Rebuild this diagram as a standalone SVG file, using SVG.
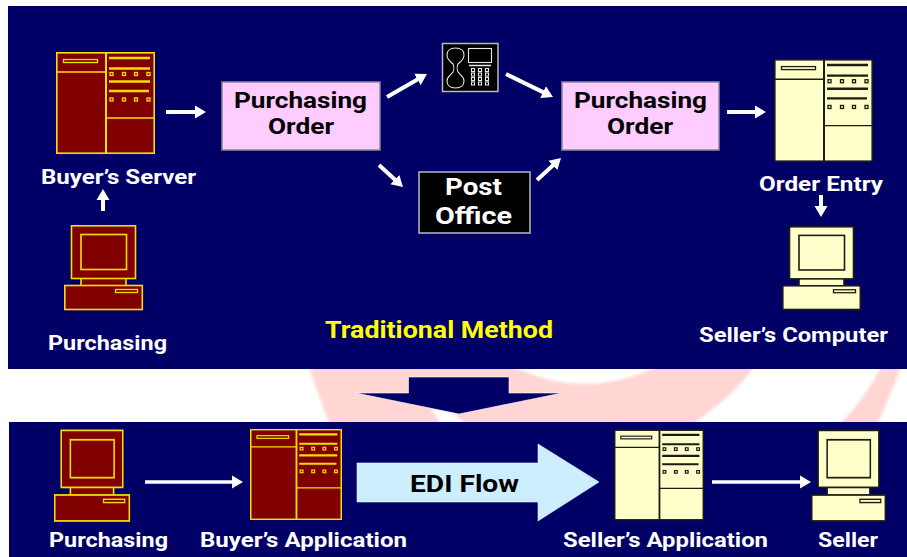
<svg xmlns="http://www.w3.org/2000/svg" width="907" height="557" viewBox="0 0 907 557">
<style>
.panel{fill:#000066}
.pink{fill:#ffd6d3}
.red{fill:#800000;stroke:#f4e000}
.cream{fill:#ffffcc;stroke:#1c1c10}
.order{fill:#ffccff;stroke:#8a8a9a;stroke-width:1.5}
.blk{fill:#000000;stroke:#b8b8c0;stroke-width:1.5}
.wire{fill:none;stroke:#e8e8e8;stroke-width:1.1}
.arrow{fill:none;stroke:#ffffff;stroke-width:4;marker-end:url(#head)}
.arrowThin{fill:none;stroke:#ffffff;stroke-width:3.5;marker-end:url(#head)}
text{font-family:Roboto,"Noto Sans","Liberation Sans",sans-serif;font-weight:700;fill:#ffffff}
.lab{font-size:20px}
.big{font-size:22px;fill:#000000}
.post{font-size:24.5px}
.yel{font-size:23px;fill:#ffff00}
.edi{font-size:23px;fill:#000000}
</style>
<defs>
<filter id="soft" x="-5%" y="-20%" width="110%" height="140%"><feGaussianBlur stdDeviation="1.6"/></filter>
<marker id="head" markerUnits="userSpaceOnUse" viewBox="0 -7 12 14" markerWidth="12" markerHeight="14" refX="1" refY="0" orient="auto">
<path d="M0,-6.5 L11,0 L0,6.5 Z" fill="#ffffff"/>
</marker>
<symbol id="server" viewBox="0 0 99 102" preserveAspectRatio="none" overflow="visible">
<rect x="0.8" y="0.8" width="97.4" height="100.4" stroke-width="1.6"/>
<path d="M50,0.5V101.5" stroke-width="2" fill="none"/>
<path d="M0.5,20H50M50,66H98.5" stroke-width="1.4" fill="none"/>
<rect x="7.5" y="7.5" width="34" height="3" stroke-width="1.3"/>
<path d="M53,6H94M53,16.5H94M53,29.5H94M53,39H93" stroke-width="2.4" fill="none"/>
<g stroke-width="1.3">
<rect x="54" y="20.5" width="3" height="3"/><rect x="66.5" y="20.5" width="3" height="3"/><rect x="78.5" y="20.5" width="3" height="3"/><rect x="91" y="20.5" width="3" height="3"/>
<rect x="54" y="46" width="3" height="3"/><rect x="66.5" y="46" width="3" height="3"/><rect x="78.5" y="46" width="3" height="3"/><rect x="91" y="46" width="3" height="3"/>
</g>
</symbol>
<symbol id="pc" viewBox="0 0 79 85" preserveAspectRatio="none" overflow="visible">
<rect x="17" y="52" width="45" height="9" stroke-width="1.6"/>
<rect x="7.5" y="0.8" width="64" height="52.7" stroke-width="1.6"/>
<rect x="17" y="9.5" width="45.5" height="35" stroke-width="1.6"/>
<rect x="0.8" y="60.5" width="77.5" height="24" stroke-width="1.6"/>
<rect x="51.5" y="64.5" width="22" height="3" stroke-width="1.3"/>
</symbol>
</defs>

<rect width="907" height="557" fill="#ffffff"/>
<g id="watermark" filter="url(#soft)">
<path class="pink" d="M308,365L330,426H690Q735,395 755,365H660Q585,403 510,365Z"/>
<path fill="#ffffff" d="M430,408L443,426H467L448,408Z"/>
<path class="pink" d="M882,365H902Q890,395 877,426H838Q865,400 882,365Z"/>
</g>
<rect class="panel" x="8" y="6" width="899" height="363"/>
<rect class="panel" x="9" y="422" width="898" height="135"/>

<g id="down-arrow">
<path d="M408.5,377H509V393H562L459,414L356,393H408.5Z" fill="#000066" stroke="#ffffff" stroke-width="0.6"/>
</g>

<g id="connectors">
<line class="arrow" x1="166" y1="112" x2="196" y2="112"/>
<line class="arrow" x1="103" y1="211" x2="103" y2="199"/>
<line class="arrow" x1="387" y1="97" x2="418.3" y2="79"/>
<line class="arrow" x1="506" y1="74" x2="544" y2="92.6"/>
<line class="arrow" x1="379" y1="165" x2="395.6" y2="180.2"/>
<line class="arrow" x1="537" y1="180" x2="553.6" y2="164.8"/>
<line class="arrow" x1="727" y1="112" x2="756" y2="112"/>
<line class="arrow" x1="821" y1="195" x2="821" y2="207"/>
<line class="arrowThin" x1="145" y1="482" x2="233" y2="482"/>
<line class="arrowThin" x1="712" y1="482" x2="801" y2="482"/>
</g>

<g id="buyers-server">
<use href="#server" class="red" x="56" y="52" width="99" height="102"/>
<text class="lab" x="41" y="184" textLength="155" lengthAdjust="spacingAndGlyphs">Buyer’s Server</text>
</g>
<g id="purchasing-top">
<use href="#pc" class="red" x="64" y="225" width="79" height="85"/>
<text class="lab" x="48" y="350" textLength="119" lengthAdjust="spacingAndGlyphs">Purchasing</text>
</g>
<g id="order-left">
<rect class="order" x="222" y="82" width="158" height="68"/>
<text class="big" x="234" y="108" textLength="133" lengthAdjust="spacingAndGlyphs">Purchasing</text>
<text class="big" x="268" y="134" textLength="66" lengthAdjust="spacingAndGlyphs">Order</text>
</g>
<g id="phone">
<rect class="blk" x="442.5" y="43.5" width="55.5" height="48"/>
<path class="wire" d="M455.5,48C450,48 447,51 447,55C447,60 451,62 453,64C454,66 454,70 453,72C451,75 447,76 447,81C447,85 450,88 455.5,88C461,88 464,85 464,81C464,76 460,75 458,72C457,70 457,66 458,64C460,62 464,60 464,55C464,51 461,48 455.5,48Z"/>
<rect class="wire" x="468.5" y="48.5" width="23" height="14"/>
<path d="M469,65.5H491" stroke="#e8e8e8" stroke-width="1.5"/>
<g class="wire">
<rect x="471.5" y="68.5" width="3" height="3"/><rect x="478.5" y="68.5" width="3" height="3"/><rect x="485.5" y="68.5" width="3" height="3"/>
<rect x="471.5" y="73" width="3" height="3"/><rect x="478.5" y="73" width="3" height="3"/><rect x="485.5" y="73" width="3" height="3"/>
<rect x="471.5" y="77.5" width="3" height="3"/><rect x="478.5" y="77.5" width="3" height="3"/><rect x="485.5" y="77.5" width="3" height="3"/>
<rect x="471.5" y="82" width="3" height="3"/><rect x="478.5" y="82" width="3" height="3"/><rect x="485.5" y="82" width="3" height="3"/>
</g>
</g>
<g id="post-office">
<rect class="blk" x="419" y="172" width="111" height="61"/>
<text class="post" x="445" y="194.5" textLength="57" lengthAdjust="spacingAndGlyphs">Post</text>
<text class="post" x="435" y="223.5" textLength="77" lengthAdjust="spacingAndGlyphs">Office</text>
</g>
<g id="order-right">
<rect class="order" x="562" y="82" width="157" height="68"/>
<text class="big" x="574" y="108" textLength="133" lengthAdjust="spacingAndGlyphs">Purchasing</text>
<text class="big" x="607" y="134" textLength="66" lengthAdjust="spacingAndGlyphs">Order</text>
</g>
<g id="order-entry">
<use href="#server" class="cream" x="774" y="59" width="99" height="103"/>
<text class="lab" x="759" y="191" textLength="124" lengthAdjust="spacingAndGlyphs">Order Entry</text>
</g>
<g id="sellers-computer">
<use href="#pc" class="cream" x="782" y="226" width="79" height="84"/>
<text class="lab" x="699" y="342" textLength="189" lengthAdjust="spacingAndGlyphs">Seller’s Computer</text>
</g>
<text class="yel" x="325" y="338" textLength="228" lengthAdjust="spacingAndGlyphs">Traditional Method</text>

<g id="purchasing-bottom">
<use href="#pc" class="red" x="54" y="429.5" width="76" height="92"/>
<text class="lab" x="49" y="547" textLength="119" lengthAdjust="spacingAndGlyphs">Purchasing</text>
</g>
<g id="buyers-application">
<use href="#server" class="red" x="250" y="429" width="92" height="91"/>
<text class="lab" x="200" y="547" textLength="207" lengthAdjust="spacingAndGlyphs">Buyer’s Application</text>
</g>
<g id="edi-flow">
<path d="M357,463H538V444L599,482L538,521V502H357Z" fill="#cceeff" stroke="#e8f6ff" stroke-width="0.6"/>
<text class="edi" x="410" y="492" textLength="109" lengthAdjust="spacingAndGlyphs">EDI Flow</text>
</g>
<g id="sellers-application">
<use href="#server" class="cream" x="614" y="429.5" width="90" height="91"/>
<text class="lab" x="563" y="547" textLength="205" lengthAdjust="spacingAndGlyphs">Seller’s Application</text>
</g>
<g id="seller">
<use href="#pc" class="cream" x="811" y="429.5" width="75" height="92"/>
<text class="lab" x="818" y="547" textLength="60" lengthAdjust="spacingAndGlyphs">Seller</text>
</g>
</svg>
